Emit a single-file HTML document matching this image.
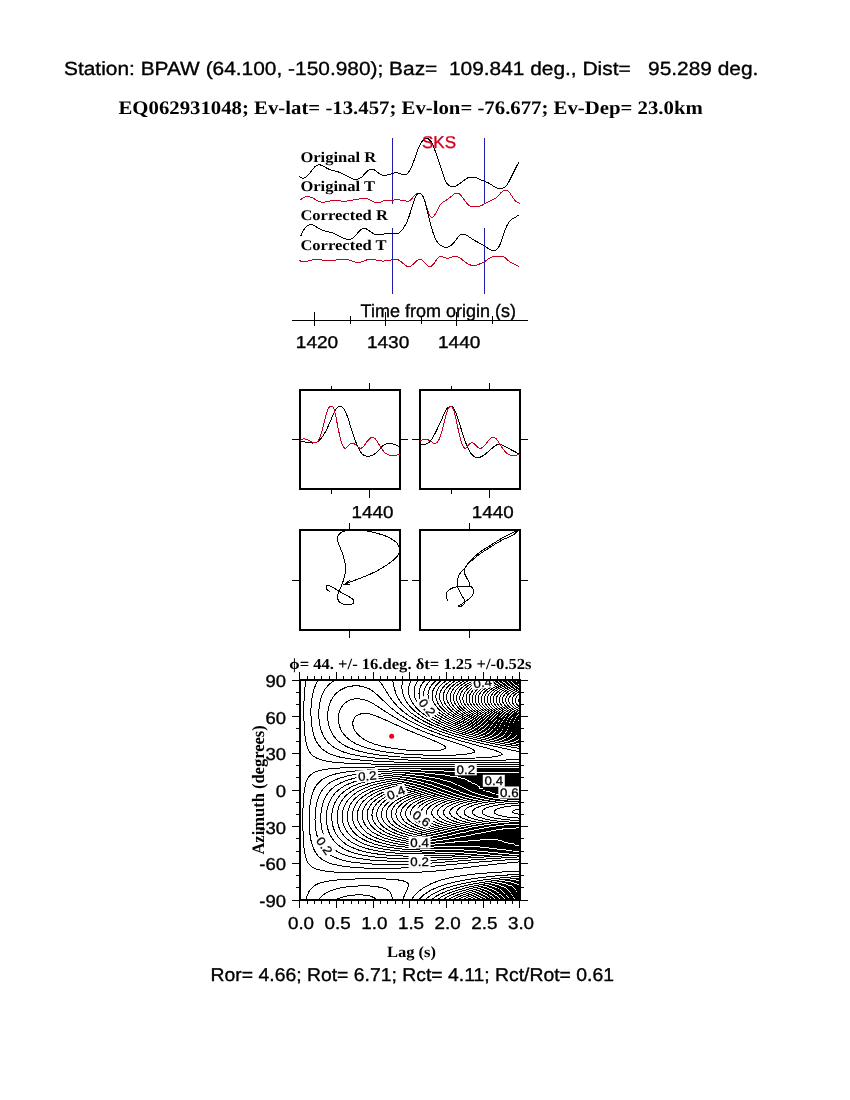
<!DOCTYPE html>
<html><head><meta charset="utf-8"><title>SKS splitting BPAW</title>
<style>html,body{margin:0;padding:0;background:#fff}svg{display:block}text{text-rendering:geometricPrecision;white-space:pre}</style>
</head><body>
<svg width="850" height="1100" viewBox="0 0 850 1100">
<rect width="850" height="1100" fill="#fff"/>
<text transform="translate(64 74.8) scale(1.094 1)" font-family='"Liberation Sans",sans-serif' font-size="19.1" xml:space="preserve" stroke="#000" stroke-width=".35">Station: BPAW (64.100, -150.980); Baz=  109.841 deg., Dist=   95.289 deg.</text>
<text transform="translate(118.5 114) scale(1.088 1)" font-family='"Liberation Serif",serif' font-size="19.1" font-weight="bold" xml:space="preserve">EQ062931048; Ev-lat= -13.457; Ev-lon= -76.677; Ev-Dep= 23.0km</text>
<g shape-rendering="crispEdges">
<path d="M392.5 138V204M392.5 228V293.5M484.5 138V204M484.5 228V293.5" stroke="#1c1ca8" stroke-width="1" fill="none"/>
</g>
<path d="M299.1 176.6L300.1 177.3L301.1 177.8L302.1 178.1L303.1 178.2L304.1 178L305.1 177.6L306.1 177L307.1 176.2L308.1 175.2L309.1 174L310.1 172.7L311.1 171.4L312.1 170L313.1 168.8L314.1 167.6L315.1 166.6L316.1 165.9L317.1 165.4L318.1 165L319.1 164.9L320.1 164.9L321.1 165.2L322.1 165.5L323.1 166L324.1 166.5L325.1 167.1L326.1 167.7L327.1 168.3L328.1 168.8L329.1 169.3L330.1 169.7L331.1 170L332.1 170.3L333.1 170.6L334.1 170.8L335.1 171.1L336.1 171.3L337.1 171.6L338.1 171.9L339.1 172.2L340.1 172.6L341.1 173L342.1 173.4L343.1 173.9L344.1 174.4L345.1 175L346.1 175.5L347.1 176.1L348.1 176.6L349.1 177.2L350.1 177.7L351.1 178.2L352.1 178.6L353.1 179L354.1 179.2L355.1 179.4L356.1 179.4L357.1 179.3L358.1 179L359.1 178.7L360.1 178.1L361.1 177.5L362.1 176.7L363.1 175.7L364.1 174.6L365.1 173.4L366.1 172.2L367.1 171.2L368.1 170.4L369.1 169.9L370.1 169.5L371.1 169.3L372.1 169.3L373.1 169.4L374.1 169.8L375.1 170.4L376.1 171.2L377.1 172L378.1 172.8L379.1 173.5L380.1 174.2L381.1 174.7L382.1 175L383.1 175.2L384.1 175.3L385.1 175.3L386.1 175.2L387.1 175L388.1 174.8L389.1 174.6L390.1 174.3L391.1 174L392.1 173.7L393.1 173.3L394.1 172.9L395.1 172.6L396.1 172.4L397.1 172.5L398.1 172.9L399.1 173.4L400.1 173.8L401.1 174.2L402.1 174.4L403.1 174.5L404.1 174.5L405.1 174.5L406.1 174.3L407.1 173.8L408.1 172.9L409.1 171.5L410.1 169.8L411.1 167.8L412.1 165.5L413.1 163L414.1 160.3L415.1 157.5L416.1 154.6L417.1 151.8L418.1 149.1L419.1 146.6L420.1 144.5L421.1 142.8L422.1 141.4L423.1 140.2L424.1 139.2L425.1 138.5L426.1 138.2L427.1 138.3L428.1 138.7L429.1 139.4L430.1 140.4L431.1 141.6L432.1 143.4L433.1 145.5L434.1 148L435.1 150.7L436.1 153.5L437.1 156.4L438.1 159.4L439.1 162.3L440.1 165.3L441.1 168.4L442.1 171.5L443.1 174.6L444.1 177.6L445.1 180.2L446.1 182.1L447.1 183.6L448.1 184.6L449.1 185.4L450.1 185.9L451.1 186.3L452.1 186.6L453.1 186.6L454.1 186.5L455.1 186.3L456.1 185.8L457.1 185.3L458.1 184.6L459.1 183.9L460.1 183.2L461.1 182.5L462.1 181.8L463.1 181L464.1 180.3L465.1 179.5L466.1 178.8L467.1 178.2L468.1 177.8L469.1 177.4L470.1 177.2L471.1 177.1L472.1 177L473.1 177.1L474.1 177.2L475.1 177.3L476.1 177.7L477.1 178.1L478.1 178.5L479.1 179L480.1 179.4L481.1 179.9L482.1 180.3L483.1 180.7L484.1 181L485.1 181.4L486.1 181.9L487.1 182.3L488.1 182.8L489.1 183.3L490.1 183.9L491.1 184.6L492.1 185.2L493.1 185.9L494.1 186.5L495.1 187.1L496.1 187.6L497.1 188L498.1 188.4L499.1 188.6L500.1 188.7L501.1 188.6L502.1 188.4L503.1 188.1L504.1 187.5L505.1 186.8L506.1 185.8L507.1 184.6L508.1 183.1L509.1 181.3L510.1 179.4L511.1 177.3L512.1 175.3L513.1 173.3L514.1 171.2L515.1 169.2L516.1 167.2L517.1 165.3L518.1 163.6L519.1 162.5" stroke="#000" stroke-width="1" fill="none" shape-rendering="crispEdges"/>
<path d="M300.7 200L301.7 199L302.7 198.1L303.7 197.5L304.7 197L305.7 196.7L306.7 196.6L307.7 196.6L308.7 196.7L309.7 196.9L310.7 197.2L311.7 197.6L312.7 198L313.7 198.6L314.7 199.1L315.7 199.7L316.7 200.2L317.7 200.8L318.7 201.2L319.7 201.7L320.7 202L321.7 202.2L322.7 202.2L323.7 202.2L324.7 202.1L325.7 201.9L326.7 201.7L327.7 201.5L328.7 201.3L329.7 201.1L330.7 200.9L331.7 200.8L332.7 200.7L333.7 200.7L334.7 200.7L335.7 200.7L336.7 200.7L337.7 200.8L338.7 200.9L339.7 200.9L340.7 201L341.7 201.1L342.7 201.1L343.7 201.1L344.7 201.1L345.7 201.1L346.7 201.1L347.7 200.9L348.7 200.8L349.7 200.7L350.7 200.5L351.7 200.3L352.7 200.1L353.7 199.9L354.7 199.7L355.7 199.5L356.7 199.4L357.7 199.2L358.7 199L359.7 198.9L360.7 198.7L361.7 198.4L362.7 198.3L363.7 198.2L364.7 198.2L365.7 198.4L366.7 198.7L367.7 199L368.7 199.5L369.7 200L370.7 200.4L371.7 200.9L372.7 201.4L373.7 201.8L374.7 202.2L375.7 202.6L376.7 202.8L377.7 202.9L378.7 202.7L379.7 202.4L380.7 202L381.7 201.6L382.7 201.2L383.7 200.9L384.7 200.6L385.7 200.5L386.7 200.4L387.7 200.4L388.7 200.4L389.7 200.4L390.7 200.4L391.7 200.3L392.7 200.2L393.7 200L394.7 199.8L395.7 199.7L396.7 199.6L397.7 199.6L398.7 199.8L399.7 199.9L400.7 200.1L401.7 200.3L402.7 200.4L403.7 200.6L404.7 200.8L405.7 201L406.7 201.2L407.7 201.3L408.7 201.1L409.7 200.6L410.7 199.9L411.7 198.9L412.7 197.6L413.7 196.4L414.7 195.3L415.7 194.4L416.7 193.7L417.7 193.3L418.7 193.1L419.7 193.2L420.7 193.6L421.7 194.4L422.7 195.8L423.7 197.9L424.7 200.6L425.7 203.7L426.7 206.9L427.7 210.1L428.7 213L429.7 215.3L430.7 216.7L431.7 217.3L432.7 217.1L433.7 216.4L434.7 215.1L435.7 213.4L436.7 211.4L437.7 209.3L438.7 207.3L439.7 205.5L440.7 204.1L441.7 203L442.7 202.3L443.7 201.7L444.7 201.2L445.7 200.6L446.7 199.9L447.7 199.2L448.7 198.4L449.7 197.6L450.7 196.8L451.7 196L452.7 195.2L453.7 194.4L454.7 193.8L455.7 193.3L456.7 193.1L457.7 193.1L458.7 193.5L459.7 194.3L460.7 195.3L461.7 196.5L462.7 197.8L463.7 199.2L464.7 200.6L465.7 201.9L466.7 203.2L467.7 204.2L468.7 205.1L469.7 205.8L470.7 206.2L471.7 206.6L472.7 206.7L473.7 206.8L474.7 206.8L475.7 206.8L476.7 206.7L477.7 206.6L478.7 206.4L479.7 206.2L480.7 205.9L481.7 205.4L482.7 204.9L483.7 204.4L484.7 203.8L485.7 203.2L486.7 202.7L487.7 202.1L488.7 201.6L489.7 201L490.7 200.5L491.7 200L492.7 199.5L493.7 199L494.7 198.5L495.7 198L496.7 197.3L497.7 196.4L498.7 195.3L499.7 194.1L500.7 192.9L501.7 192L502.7 191.2L503.7 190.7L504.7 190.4L505.7 190.2L506.7 190.2L507.7 190.7L508.7 191.5L509.7 192.8L510.7 194.3L511.7 195.8L512.7 197.4L513.7 198.9L514.7 200.1L515.7 201.1L516.7 201.8L517.7 202.5L518.7 202.9L519.7 203.4" stroke="#c8001e" stroke-width="1" fill="none" shape-rendering="crispEdges"/>
<path d="M300.7 236.2L301.7 233.8L302.7 231.8L303.7 230.1L304.7 228.6L305.7 227.4L306.7 226.5L307.7 225.7L308.7 225.2L309.7 224.8L310.7 224.6L311.7 224.6L312.7 224.8L313.7 225.2L314.7 225.8L315.7 226.4L316.7 227.1L317.7 227.8L318.7 228.4L319.7 229L320.7 229.5L321.7 229.9L322.7 230.3L323.7 230.6L324.7 230.9L325.7 231.2L326.7 231.4L327.7 231.7L328.7 231.9L329.7 232.1L330.7 232.4L331.7 232.7L332.7 233L333.7 233.4L334.7 233.8L335.7 234.3L336.7 234.8L337.7 235.3L338.7 235.9L339.7 236.4L340.7 236.9L341.7 237.4L342.7 237.9L343.7 238.3L344.7 238.6L345.7 238.9L346.7 239.1L347.7 239.2L348.7 239.2L349.7 239.2L350.7 239L351.7 238.7L352.7 238.2L353.7 237.5L354.7 236.6L355.7 235.5L356.7 234.3L357.7 233L358.7 231.8L359.7 230.7L360.7 229.8L361.7 229.1L362.7 228.7L363.7 228.4L364.7 228.5L365.7 228.7L366.7 229.1L367.7 229.7L368.7 230.4L369.7 231.2L370.7 231.9L371.7 232.6L372.7 233.2L373.7 233.8L374.7 234.2L375.7 234.6L376.7 234.8L377.7 234.9L378.7 235L379.7 234.9L380.7 234.8L381.7 234.6L382.7 234.4L383.7 234.1L384.7 233.9L385.7 233.7L386.7 233.5L387.7 233.3L388.7 233.2L389.7 233.1L390.7 233.1L391.7 233.2L392.7 233.3L393.7 233.5L394.7 233.6L395.7 233.8L396.7 233.8L397.7 233.6L398.7 233.2L399.7 232.5L400.7 231.6L401.7 230.5L402.7 229.2L403.7 227.7L404.7 226.1L405.7 224.4L406.7 222.4L407.7 220.2L408.7 217.5L409.7 214.5L410.7 211.3L411.7 208L412.7 204.7L413.7 201.6L414.7 198.8L415.7 196.4L416.7 194.7L417.7 193.7L418.7 193.3L419.7 193.4L420.7 193.7L421.7 194.5L422.7 195.9L423.7 198.1L424.7 201.2L425.7 204.7L426.7 208.6L427.7 212.6L428.7 216.7L429.7 220.7L430.7 224.6L431.7 228.2L432.7 231.6L433.7 234.6L434.7 237.2L435.7 239.4L436.7 241.1L437.7 242.5L438.7 243.6L439.7 244.6L440.7 245.4L441.7 246L442.7 246.6L443.7 247L444.7 247.2L445.7 247.4L446.7 247.4L447.7 247.2L448.7 246.9L449.7 246.4L450.7 245.8L451.7 245L452.7 244L453.7 242.9L454.7 241.6L455.7 240.2L456.7 238.8L457.7 237.5L458.7 236.3L459.7 235.4L460.7 234.7L461.7 234.3L462.7 234.1L463.7 234.1L464.7 234.4L465.7 234.8L466.7 235.4L467.7 236L468.7 236.7L469.7 237.3L470.7 238L471.7 238.6L472.7 239.3L473.7 239.9L474.7 240.5L475.7 241.1L476.7 241.6L477.7 242.2L478.7 242.7L479.7 243.2L480.7 243.7L481.7 244.3L482.7 244.8L483.7 245.4L484.7 246L485.7 246.7L486.7 247.4L487.7 248.1L488.7 248.8L489.7 249.4L490.7 249.9L491.7 250.3L492.7 250.6L493.7 250.6L494.7 250.5L495.7 250.2L496.7 249.5L497.7 248.6L498.7 247.2L499.7 245.3L500.7 242.9L501.7 240.1L502.7 237L503.7 234L504.7 231.1L505.7 228.5L506.7 226.2L507.7 224.2L508.7 222.5L509.7 221.2L510.7 220.2L511.7 219.3L512.7 218.7L513.7 218.1L514.7 217.6L515.7 217L516.7 216.4L517.7 215.7L518.7 214.8" stroke="#000" stroke-width="1" fill="none" shape-rendering="crispEdges"/>
<path d="M299.1 260.4L300.1 260.9L301.1 261.2L302.1 261.4L303.1 261.5L304.1 261.5L305.1 261.4L306.1 261.3L307.1 261.1L308.1 260.9L309.1 260.7L310.1 260.4L311.1 260.1L312.1 259.9L313.1 259.7L314.1 259.5L315.1 259.4L316.1 259.3L317.1 259.3L318.1 259.4L319.1 259.6L320.1 259.7L321.1 259.9L322.1 260.1L323.1 260.4L324.1 260.5L325.1 260.7L326.1 260.7L327.1 260.8L328.1 260.8L329.1 260.8L330.1 260.7L331.1 260.6L332.1 260.5L333.1 260.4L334.1 260.2L335.1 260.1L336.1 259.9L337.1 259.8L338.1 259.6L339.1 259.5L340.1 259.4L341.1 259.3L342.1 259.3L343.1 259.2L344.1 259.3L345.1 259.3L346.1 259.4L347.1 259.6L348.1 259.8L349.1 260L350.1 260.3L351.1 260.7L352.1 261.1L353.1 261.4L354.1 261.7L355.1 262L356.1 262.2L357.1 262.4L358.1 262.4L359.1 262.4L360.1 262.3L361.1 262.1L362.1 261.8L363.1 261.5L364.1 261.1L365.1 260.7L366.1 260.2L367.1 259.8L368.1 259.5L369.1 259.3L370.1 259.2L371.1 259.2L372.1 259.3L373.1 259.4L374.1 259.7L375.1 259.9L376.1 260.1L377.1 260.4L378.1 260.6L379.1 260.7L380.1 260.8L381.1 260.9L382.1 261L383.1 261L384.1 261L385.1 260.9L386.1 260.8L387.1 260.7L388.1 260.6L389.1 260.4L390.1 260.2L391.1 260L392.1 259.8L393.1 259.6L394.1 259.5L395.1 259.4L396.1 259.4L397.1 259.5L398.1 259.8L399.1 260.3L400.1 261L401.1 261.7L402.1 262.6L403.1 263.5L404.1 264.3L405.1 265.2L406.1 265.8L407.1 266.4L408.1 266.7L409.1 266.7L410.1 266.4L411.1 265.9L412.1 265.2L413.1 264.3L414.1 263.3L415.1 262.3L416.1 261.3L417.1 260.5L418.1 259.8L419.1 259.4L420.1 259.3L421.1 259.6L422.1 260.2L423.1 261L424.1 262L425.1 263L426.1 264.2L427.1 265.2L428.1 266.1L429.1 266.6L430.1 266.7L431.1 266.3L432.1 265.6L433.1 264.5L434.1 263.3L435.1 261.9L436.1 260.5L437.1 259.1L438.1 257.9L439.1 257L440.1 256.6L441.1 256.4L442.1 256.6L443.1 257L444.1 257.4L445.1 257.8L446.1 258.1L447.1 258.2L448.1 258.1L449.1 258L450.1 257.7L451.1 257.4L452.1 257L453.1 256.7L454.1 256.5L455.1 256.5L456.1 256.5L457.1 256.7L458.1 257L459.1 257.5L460.1 258.1L461.1 258.8L462.1 259.6L463.1 260.4L464.1 261.2L465.1 262L466.1 262.7L467.1 263.4L468.1 264L469.1 264.5L470.1 264.9L471.1 265.2L472.1 265.4L473.1 265.4L474.1 265.4L475.1 265.3L476.1 265.1L477.1 264.9L478.1 264.6L479.1 264.2L480.1 263.8L481.1 263.4L482.1 262.9L483.1 262.4L484.1 261.8L485.1 261.2L486.1 260.5L487.1 259.8L488.1 259.1L489.1 258.4L490.1 257.8L491.1 257.4L492.1 257L493.1 256.8L494.1 256.6L495.1 256.5L496.1 256.4L497.1 256.3L498.1 256.2L499.1 256.1L500.1 256L501.1 256L502.1 256.2L503.1 256.5L504.1 257L505.1 257.7L506.1 258.5L507.1 259.5L508.1 260.4L509.1 261.2L510.1 262L511.1 262.6L512.1 263.2L513.1 263.7L514.1 264.2L515.1 264.6L516.1 265.1L517.1 265.5L518.1 266L519.1 266.5" stroke="#c8001e" stroke-width="1" fill="none" shape-rendering="crispEdges"/>
<text transform="translate(300.4 161.5) scale(1.118 1)" font-family='"Liberation Serif",serif' font-size="14.8" font-weight="bold" xml:space="preserve">Original R</text>
<text transform="translate(300.4 191.1) scale(1.118 1)" font-family='"Liberation Serif",serif' font-size="14.8" font-weight="bold" xml:space="preserve">Original T</text>
<text transform="translate(300.4 219.7) scale(1.118 1)" font-family='"Liberation Serif",serif' font-size="14.8" font-weight="bold" xml:space="preserve">Corrected R</text>
<text transform="translate(300.4 249.7) scale(1.118 1)" font-family='"Liberation Serif",serif' font-size="14.8" font-weight="bold" xml:space="preserve">Corrected T</text>
<text transform="translate(422 147.9)" font-family='"Liberation Sans",sans-serif' font-size="17" fill="#d6001c" xml:space="preserve" stroke="#d6001c" stroke-width=".35">SKS</text>
<text transform="translate(360.6 317.1) scale(0.995 1)" font-family='"Liberation Sans",sans-serif' font-size="18.1" xml:space="preserve" stroke="#000" stroke-width=".35">Time from origin (s)</text>
<g shape-rendering="crispEdges" stroke="#000" stroke-width="1" fill="none">
<path d="M292 320.5H528"/>
<path d="M314.5 312V326M350.5 316V324M385.5 312V326M421.5 316V324M456.5 312V326M492.5 316V324"/>
</g>
<text transform="translate(317 347.7) scale(1.115 1)" font-family='"Liberation Sans",sans-serif' font-size="17.1" text-anchor="middle" xml:space="preserve" stroke="#000" stroke-width=".35">1420</text>
<text transform="translate(388.1 347.7) scale(1.115 1)" font-family='"Liberation Sans",sans-serif' font-size="17.1" text-anchor="middle" xml:space="preserve" stroke="#000" stroke-width=".35">1430</text>
<text transform="translate(459.2 347.7) scale(1.115 1)" font-family='"Liberation Sans",sans-serif' font-size="17.1" text-anchor="middle" xml:space="preserve" stroke="#000" stroke-width=".35">1440</text>
<rect x="300" y="390" width="100" height="99" fill="none" stroke="#000" stroke-width="2" shape-rendering="crispEdges"/>
<rect x="420" y="390" width="100" height="99" fill="none" stroke="#000" stroke-width="2" shape-rendering="crispEdges"/>
<rect x="300" y="530" width="100" height="99.5" fill="none" stroke="#000" stroke-width="2" shape-rendering="crispEdges"/>
<rect x="420" y="530" width="100" height="99.5" fill="none" stroke="#000" stroke-width="2" shape-rendering="crispEdges"/>
<path d="M331.5 386V390M369.5 382.5V390M331.5 489V493.5M369.5 489V497.5M292 439.5H300M400 439.5H407.5M349.5 522.5V530M349.5 629.5V637.5M292 580.5H300M400 580.5H407.5M451.5 386V390M489.5 382.5V390M451.5 489V493.5M489.5 489V497.5M412 439.5H420M520 439.5H527.5M469.5 522.5V530M469.5 629.5V637.5M412 580.5H420M520 580.5H527.5" stroke="#000" stroke-width="1" fill="none" shape-rendering="crispEdges"/>
<text transform="translate(372.5 518.3) scale(1.09 1)" font-family='"Liberation Sans",sans-serif' font-size="17.3" text-anchor="middle" xml:space="preserve" stroke="#000" stroke-width=".35">1440</text>
<text transform="translate(492.8 518.3) scale(1.09 1)" font-family='"Liberation Sans",sans-serif' font-size="17.3" text-anchor="middle" xml:space="preserve" stroke="#000" stroke-width=".35">1440</text>
<path d="M300.2 441.7L301.2 441.6L302.2 441.6L303.2 441.7L304.2 441.8L305.2 442L306.2 442.2L307.2 442.4L308.2 442.5L309.2 442.7L310.2 442.8L311.2 442.9L312.2 443L313.2 443L314.2 442.8L315.2 442.6L316.2 442.3L317.2 441.8L318.2 441.2L319.2 440.5L320.2 439.5L321.2 438.4L322.2 437L323.2 435.6L324.2 433.9L325.2 432.2L326.2 430.3L327.2 428.3L328.2 426.2L329.2 423.9L330.2 421.6L331.2 419.3L332.2 416.8L333.2 414.5L334.2 412.2L335.2 410.3L336.2 408.7L337.2 407.5L338.2 406.7L339.2 406.4L340.2 406.3L341.2 406.5L342.2 407.1L343.2 408.1L344.2 409.4L345.2 411.2L346.2 413.5L347.2 416L348.2 418.9L349.2 422L350.2 425.2L351.2 428.5L352.2 431.8L353.2 434.8L354.2 437.7L355.2 440.4L356.2 443L357.2 445.4L358.2 447.6L359.2 449.6L360.2 451.3L361.2 452.8L362.2 454L363.2 454.8L364.2 455.4L365.2 455.8L366.2 456L367.2 456.1L368.2 456.1L369.2 456.1L370.2 455.9L371.2 455.7L372.2 455.3L373.2 454.8L374.2 454.2L375.2 453.5L376.2 452.7L377.2 451.8L378.2 450.7L379.2 449.7L380.2 448.6L381.2 447.4L382.2 446.4L383.2 445.5L384.2 444.7L385.2 444.2L386.2 443.8L387.2 443.5L388.2 443.4L389.2 443.4L390.2 443.5L391.2 443.6L392.2 443.8L393.2 444L394.2 444.4L395.2 444.7L396.2 445.2L397.2 445.7L398.2 446.2L399.2 446.8L400.2 447.4" stroke="#000" stroke-width="1" fill="none" shape-rendering="crispEdges"/>
<path d="M300.2 440.6L301.2 439.8L302.2 439.3L303.2 439L304.2 438.9L305.2 439L306.2 439.2L307.2 439.6L308.2 440L309.2 440.5L310.2 441L311.2 441.6L312.2 442.1L313.2 442.6L314.2 442.8L315.2 442.9L316.2 442.6L317.2 441.8L318.2 440.6L319.2 438.9L320.2 436.5L321.2 433.6L322.2 430.1L323.2 426.3L324.2 422.3L325.2 418.3L326.2 414.6L327.2 411.3L328.2 408.8L329.2 407.1L330.2 406.3L331.2 406L332.2 406.3L333.2 407.5L334.2 409.8L335.2 413.5L336.2 418.2L337.2 423.5L338.2 428.7L339.2 433.5L340.2 437.8L341.2 441.5L342.2 444.5L343.2 446.6L344.2 447.9L345.2 448.3L346.2 447.8L347.2 446.9L348.2 445.7L349.2 444.7L350.2 444L351.2 443.5L352.2 443.4L353.2 443.5L354.2 443.9L355.2 444.6L356.2 445.4L357.2 446.3L358.2 447.1L359.2 447.9L360.2 448.3L361.2 448.2L362.2 447.7L363.2 446.7L364.2 445.5L365.2 444.1L366.2 442.7L367.2 441.4L368.2 440.1L369.2 439.1L370.2 438.2L371.2 437.7L372.2 437.4L373.2 437.5L374.2 437.9L375.2 438.8L376.2 440L377.2 441.4L378.2 443L379.2 444.7L380.2 446.4L381.2 448L382.2 449.5L383.2 450.9L384.2 452L385.2 453L386.2 453.7L387.2 454.3L388.2 454.7L389.2 455L390.2 455.2L391.2 455.4L392.2 455.5L393.2 455.5L394.2 455.4L395.2 455.3L396.2 455.2L397.2 455L398.2 454.8L399.2 454.6L400.2 454.4" stroke="#c8001e" stroke-width="1" fill="none" shape-rendering="crispEdges"/>
<path d="M420.1 444.2L421.1 444.2L422.1 444.3L423.1 444.3L424.1 444.3L425.1 444.1L426.1 443.9L427.1 443.6L428.1 443L429.1 442.3L430.1 441.4L431.1 440.1L432.1 438.7L433.1 437L434.1 435.2L435.1 433.2L436.1 431.2L437.1 429.2L438.1 427.1L439.1 425L440.1 422.9L441.1 420.7L442.1 418.5L443.1 416.2L444.1 414L445.1 411.9L446.1 410L447.1 408.5L448.1 407.4L449.1 406.7L450.1 406.3L451.1 406.4L452.1 406.8L453.1 407.7L454.1 409.1L455.1 411L456.1 413.3L457.1 416.1L458.1 419.1L459.1 422.2L460.1 425.4L461.1 428.7L462.1 431.9L463.1 435.1L464.1 438.1L465.1 441L466.1 443.7L467.1 446.2L468.1 448.5L469.1 450.5L470.1 452.2L471.1 453.6L472.1 454.8L473.1 455.8L474.1 456.5L475.1 457L476.1 457.4L477.1 457.6L478.1 457.6L479.1 457.5L480.1 457.2L481.1 456.8L482.1 456.3L483.1 455.7L484.1 455L485.1 454.2L486.1 453.4L487.1 452.6L488.1 451.7L489.1 450.8L490.1 449.9L491.1 449L492.1 448.2L493.1 447.3L494.1 446.5L495.1 445.8L496.1 445.2L497.1 444.7L498.1 444.3L499.1 444.2L500.1 444.3L501.1 444.5L502.1 444.9L503.1 445.4L504.1 445.9L505.1 446.5L506.1 447.1L507.1 447.7L508.1 448.2L509.1 448.7L510.1 449.2L511.1 449.8L512.1 450.3L513.1 450.8L514.1 451.3L515.1 451.8L516.1 452.4L517.1 452.9L518.1 453.5L519.1 454.1L520.1 454.8" stroke="#000" stroke-width="1" fill="none" shape-rendering="crispEdges"/>
<path d="M420.1 440.9L421.1 440.3L422.1 439.9L423.1 439.6L424.1 439.4L425.1 439.3L426.1 439.3L427.1 439.5L428.1 439.8L429.1 440.3L430.1 440.9L431.1 441.6L432.1 442.3L433.1 442.9L434.1 443.3L435.1 443.4L436.1 443.1L437.1 442.4L438.1 441.1L439.1 439.3L440.1 436.8L441.1 433.8L442.1 430.3L443.1 426.5L444.1 422.5L445.1 418.5L446.1 414.7L447.1 411.5L448.1 409L449.1 407.3L450.1 406.4L451.1 406.2L452.1 406.9L453.1 408.6L454.1 411.4L455.1 415.2L456.1 419.5L457.1 424.2L458.1 428.9L459.1 433.4L460.1 437.6L461.1 441.2L462.1 444.2L463.1 446.5L464.1 447.8L465.1 448.3L466.1 447.8L467.1 446.7L468.1 445.4L469.1 444.2L470.1 443.4L471.1 442.9L472.1 442.8L473.1 443.1L474.1 443.8L475.1 444.7L476.1 445.7L477.1 446.7L478.1 447.4L479.1 448L480.1 448.3L481.1 448.2L482.1 447.8L483.1 447.1L484.1 446.1L485.1 444.9L486.1 443.7L487.1 442.4L488.1 441.1L489.1 439.9L490.1 438.8L491.1 438L492.1 437.5L493.1 437.2L494.1 437.3L495.1 437.9L496.1 438.8L497.1 440L498.1 441.4L499.1 443L500.1 444.5L501.1 446.1L502.1 447.6L503.1 449.1L504.1 450.4L505.1 451.5L506.1 452.5L507.1 453.4L508.1 454.1L509.1 454.6L510.1 455L511.1 455.3L512.1 455.5L513.1 455.5L514.1 455.5L515.1 455.4L516.1 455.3L517.1 455L518.1 454.8L519.1 454.5L520.1 454.2" stroke="#c8001e" stroke-width="1" fill="none" shape-rendering="crispEdges"/>
<g stroke="#000" stroke-width="1" fill="none" shape-rendering="crispEdges">
<path d="M344.4 584.3L345.5 583.8L346.6 583.4L347.7 583L348.9 582.5L350 582.1L351.1 581.7L352.2 581.2L353.3 580.8L354.5 580.4L355.6 580L356.7 579.6L357.8 579.1L358.9 578.7L360.1 578.3L361.2 577.9L362.3 577.4L363.4 577L364.5 576.6L365.6 576.1L366.8 575.6L367.9 575.2L369 574.7L370.1 574.2L371.1 573.7L372.2 573.2L373.3 572.7L374.4 572.2L375.5 571.6L376.5 571.1L377.6 570.5L378.6 570L379.7 569.4L380.7 568.8L381.8 568.2L382.8 567.6L383.8 566.9L384.8 566.3L385.8 565.6L386.8 565L387.8 564.3L388.8 563.6L389.8 562.9L390.7 562.2L391.7 561.5L392.6 560.7L393.5 559.9L394.4 559.1L395.3 558.3L396.2 557.4L397 556.6L397.8 555.6L398.4 554.6L398.9 553.5L399.3 552.4L399.5 551.2L399.5 550L399.4 548.8L399.1 547.5L398.8 546.4L398.3 545.3L397.7 544.2L397 543.2L396.2 542.4L395.3 541.6L394.4 540.8L393.4 540.1L392.3 539.5L391.3 538.9L390.2 538.3L389.2 537.7L388.1 537.2L387 536.7L385.9 536.2L384.8 535.7L383.7 535.3L382.6 534.9L381.4 534.6L380.3 534.2L379.1 533.9L378 533.5L376.8 533.2L375.7 532.9L374.5 532.6L373.3 532.3L372.2 532L371 531.7L369.8 531.5L368.7 531.3L367.5 531.1L366.3 530.9L365.1 530.8L363.9 530.7L362.7 530.6L361.5 530.5L360.3 530.4L359.1 530.4L357.9 530.3L356.7 530.3L355.5 530.2L354.3 530.2L353.1 530.2L351.9 530.2L350.7 530.2L349.5 530.3L348.3 530.4L347.1 530.5L346 530.7L344.8 531L343.6 531.4L342.5 531.8L341.4 532.4L340.4 533L339.5 533.8L338.7 534.8L338.1 535.8L337.7 536.9L337.5 538.1L337.5 539.4L337.6 540.6L337.9 541.7L338.2 542.9L338.6 544L339.1 545.1L339.6 546.2L340 547.3L340.5 548.4L340.9 549.6L341.4 550.7L341.8 551.8L342.2 552.9L342.6 554L343 555.2L343.4 556.3L343.7 557.5L344 558.6L344.3 559.8L344.6 561L344.8 562.1L345.1 563.3L345.2 564.5L345.4 565.7L345.4 566.9L345.5 568.1L345.5 569.3L345.4 570.5L345.3 571.7L345.2 572.9L345 574.1L344.8 575.2L344.5 576.4L344.2 577.6L343.9 578.7L343.6 579.9L343.2 581L342.8 582.2L342.4 583.3L342 584.4L341.6 585.5L341.1 586.6L340.6 587.7L340.1 588.8L339.6 589.9L339.1 591L338.6 592.1L338.2 593.2L337.8 594.4L337.5 595.5L337.4 596.7L337.5 597.9L337.8 599.1L338.3 600.2L338.9 601.3L339.8 602.1L340.7 602.9L341.8 603.4L342.9 603.9L344.1 604.2L345.3 604.4L346.4 604.5L347.6 604.6L348.8 604.6L350 604.5L351.3 604.3L352.6 603.8L353.5 603.1L353.9 602.1L353.7 600.8L353.1 599.7L352.3 598.8L351.3 598.1L350.2 597.5L349.2 596.9L348.2 596.3L347.1 595.7L346.1 595.1L345.1 594.5L344 593.9L343 593.3L341.9 592.8L340.9 592.2L339.8 591.6L338.8 591L337.7 590.4L336.7 589.7L335.7 589.1L334.7 588.5L333.7 587.9L332.7 587.4L331.6 586.9L330.5 586.4L329.3 585.8L328 585.3L326.9 585.3L326.2 586L326.1 587.4L326.4 588.6L327.1 589.6L328 590.4L329 591L330.1 591.5"/>
<path d="M349.6 580.6L344.4 584.3L350.4 584.4"/>
<path d="M448.2 601.2L447.6 600.2L447 599.1L446.6 598L446.4 596.8L446.3 595.6L446.3 594.4L446.6 593.2L447.1 592.1L447.8 591.1L448.6 590.2L449.6 589.5L450.6 588.9L451.7 588.3L452.8 587.9L453.9 587.5L455.1 587.2L456.2 586.9L457.4 586.7L458.6 586.5L459.8 586.4L461 586.3L462.2 586.3L463.4 586.2L464.6 586.1L465.7 586L466.9 586L468.1 586L469.3 586.2L470.5 586.5L471.6 587.1L472.5 587.9L473.1 588.9L473.5 590L473.6 591.3L473.5 592.5L473.2 593.6L472.7 594.7L472.1 595.8L471.3 596.7L470.5 597.6L469.6 598.4L468.7 599.1L467.7 599.8L466.7 600.5L465.7 601.2L464.8 601.9L463.8 602.6L462.8 603.3L461.8 604L460.9 604.6L459.9 605.3L458.8 605.9L457.8 606.5M457.8 606.5L458.9 606.5L460.2 606.4L461.4 606.1L462.5 605.5L463.4 604.8L464.1 603.8L464.6 602.7L464.7 601.5L464.5 600.3L464 599.2L463.4 598.1L462.8 597.1L462.1 596.1L461.6 595L461 594L460.5 592.9L459.9 591.9L459.4 590.8L458.8 589.7L458.4 588.6L457.9 587.5L457.6 586.4L457.3 585.2L457.2 584L457.2 582.8L457.3 581.6L457.5 580.4L457.7 579.3L458 578.1L458.4 576.9L458.8 575.8L459.3 574.7L459.9 573.7L460.6 572.7L461.4 571.8L462.2 571L463.1 570.1L463.9 569.2L464.6 568.3L465.3 567.3L466 566.3L466.7 565.4L467.4 564.4L468.1 563.4L468.9 562.5L469.6 561.6L470.4 560.7L471.2 559.8L472.1 558.9L472.9 558.1L473.8 557.3L474.6 556.5L475.5 555.7L476.5 554.9L477.4 554.1L478.3 553.4L479.3 552.7L480.2 552L481.2 551.3L482.2 550.6L483.2 549.9L484.2 549.3L485.2 548.6L486.2 548L487.2 547.4L488.3 546.7L489.3 546.1L490.3 545.5L491.3 544.8L492.3 544.2L493.3 543.6L494.3 542.9L495.3 542.3L496.3 541.6L497.4 541L498.4 540.4L499.4 539.7L500.4 539.1L501.4 538.5L502.5 537.9L503.5 537.3L504.5 536.7L505.6 536.1L506.6 535.6L507.7 535L508.7 534.5L509.8 534L510.9 533.4L512 533L513.1 532.5L514.2 532L515.3 531.6L516.5 531.2L517.6 530.8M517.6 530.8L516.9 531.8L516.1 532.6L515.2 533.4L514.3 534.1L513.3 534.8L512.3 535.4L511.3 536L510.2 536.5L509.1 537L508 537.5L506.8 538L505.7 538.5L504.6 538.9L503.5 539.4L502.4 540L501.3 540.5L500.3 541.1L499.2 541.7L498.2 542.3L497.2 542.9L496.2 543.5L495.2 544.1L494.2 544.8L493.2 545.4L492.2 546L491.2 546.7L490.1 547.3L489.1 547.9L488.1 548.6L487.1 549.2L486.1 549.8L485.1 550.5L484.1 551.1L483.1 551.8L482.1 552.5L481.2 553.1L480.2 553.8L479.2 554.5L478.3 555.3L477.3 556L476.4 556.7L475.5 557.5L474.6 558.2L473.6 559L472.7 559.7L471.8 560.5L470.8 561.3L469.9 562L469.1 562.9L468.3 563.7L467.5 564.6L466.8 565.5L466.1 566.5L465.4 567.5L464.8 568.6L464.3 569.7L464.1 570.8L464.1 571.9L464.5 573.1L464.9 574.2L465.5 575.4L466 576.5L466.5 577.5L467 578.6L467.6 579.6L468.2 580.7L468.8 581.8L469.5 582.9L469.9 584.1L470 585.2L469.4 586.2"/>
</g>
<g id="ct" fill="none" stroke="#000" stroke-width="1" shape-rendering="crispEdges">
<path d="M424.7 750.9l-7.4-.2-11-.7-13.1-1.6-6.8-1.2-5.7-1.3-7.4-2.2-3.6-1.5-4.8-2.3-3.7-2.5-2.9-2.4-3-3.7-1.3-2.4-1.1-3.7-.1-2.4 .2-1.2 .8-2.5 1.2-2 2-1.7 1.7-.9 3.6-1 3.7 0 3.7 .5 3.6 1 7.4 2.8 27.1 12.3 29.9 12.2 5.1 2.5 1.8 1.2 1.1 1.2-.2 1.2-2.6 1.3-3.6 .5-7.3 .6-7.3 .1M413.7 754.7l-11-.8-11-1.1-11-1.6-7.4-1.5-7.3-1.9-5.1-1.8-5.5-2.4-4.2-2.5-4.6-3.7-3.3-3.6-1.6-2.5-1.2-2.4-1.3-3.7-.5-2.4-.3-2.5-.1-2.4 .3-2.5 .4-2.4 .8-2.4 .5-1.4 1.4-2.3 2.3-2.9 2.5-2 1.2-.8 3.6-1.6 3.7-.8 3.7 0 3.6 .5 3.7 1 3.7 1.6 3.6 1.9 3.7 2.2 12.5 8.2 8.1 4.9 6.7 3.7 7.4 3.6 8.2 3.7 9.2 3.7 13.9 5 21.6 7.2 6.2 2.4 2.3 1.3 1.4 1.2-.2 1.2-2.7 1.2-8.2 1.3-9.4 .5-14.7 .3-11-.2-14.6-.5M432 758.3l-14.7-.4-17-.9-14.4-1.2-10-1.2-9.9-1.8-8-1.9-7.3-2.5-3-1.3-4.4-2.3-3-2.1-2-1.6-2.4-2.4-2-2.5-1.6-2.4-1.3-2.5-1.5-3.6-.7-2.5-.7-3.6-.4-3.7 0-3.7 .3-3.6 .7-3.7 .7-2.5 1.5-3.6 1.3-2.5 1.7-2.4 2.2-2.5 2.9-2.4 1.3-.9 3.7-1.9 3.7-1.3 3.7-.8 3.6-.3 3.7 .1 3.6 .5 3.7 1.1 3.7 1.6 3.6 2.4 3.7 3.1 12.9 12.3 7.6 6.1 3.4 2.4 5.8 3.7 4.2 2.5 7.2 3.6 11 4.9 13.9 5.2 18.3 5.7 31.5 8.7 6.9 2.4 2.1 1.2 .3 1.3-2.5 1.2-7.5 1.2-5.1 .4-11 .6-11 .3-14.7 .2-18.3-.2M335.3 900l5-2.2 5-1.5 6-1.1 7.4-.4 3.6 .1 3.7 .4 3.7 .7 3.6 1.3 2.7 1.5 1.8 1.2M520 759.2l-11 .7-14.7 .6-29.3 .4-36.3-.2-29.7-1-22-1.5-14.7-1.8-11-2.1-7.3-2.1-3.7-1.4-4.7-2.4-3.7-2.4-4-3.7-2.8-3.6-2.6-4.9-1.8-4.9-1.1-4.9-.7-6.1-.1-6.1 .5-6.1 1.2-6.1 1.7-4.9 2.5-4.9 1-1.5 1.8-2.2 1.8-1.9 2.2-1.8 3.8-2.4M377.8 680l2.9 2.8 1.5 2.1 2.1 3.2 4.8 7.8 3.5 4.9 5.4 6.1 5.5 4.9 4.8 3.6 7.8 4.9 6.8 3.7 8 3.7 9.2 3.6 10.2 3.6 11 3.3 11 2.9 11 2.7 36.7 8.1M318.4 900l3.2-3.7 3.1-2.4 4.4-2.5 3.9-1.5 7.3-1.9 7.4-1.2 7.3-.7 7.3-.2 7.4 .1 7.3 .7 5.4 1.1 3.4 1.2 2.2 1.3 1.3 1.1 1 1.3 1.4 2.7 1 4.6M520 762.5l-36.7 .4-36.6 0-36.7-.4-25.7-.8-18.3-1.1-14.7-1.5-5.7-.9-5.3-1-5.1-1.4-3.5-1.2-2.9-1.3-4.2-2.4-3-2.5-3.3-3.6-2.2-3.7-1.4-3.3-1.3-4-1.1-4.9-.9-6.1-.4-7.4 0-7.3 .6-7.3 .9-6.1 1.6-6.1 2.1-4.9 2.2-3.7M392.7 680l1.3 7.3 1.9 6.1 2.3 4.9 3.3 4.9 4.3 4.9 5.5 4.9 7 4.9 6.3 3.7 4.8 2.4 5.3 2.4 8.3 3.4 11 3.8 11 3.3 14.7 3.7 11 2.5 11 2.2 18.3 3.3M306.1 900l.9-3.7 .9-2.4 1.2-2.5 1.9-2.7 2.2-2.1 1.8-1.3 2.3-1.2 3.2-1.2 4.6-1.2 4.2-.8 11-1.2 14.7-.7 14.7-.3 14.6 .2 11 .7 6.4 .8 4.6 1.6 1.3 .9 .7 1.2 .2 1.2-.2 1.3-.9 2.4-3.3 7.3-1.2 3.7M520 764.7l-99 0-33-.3-25.7-.6-17-.7-12.3-1-8.6-1.4-6.1-1.8-3.6-1.9-1.7-1.2-2-2-1.3-1.7-1.3-2.4-1.4-3.7-1-3.7-.6-3.6-.8-6.1-.5-7.4-.2-8.5-.1-9.8 .3-8.6 .5-7.3 .7-6.1 .8-4.9M402.9 680l-.7 3.7-.3 2.4 .1 2.5 .2 2.4 1.3 4.9 1 2.4 1.4 2.5 1.5 2.4 1.9 2.5 2.2 2.4 3.9 3.7 6.6 4.9 6.1 3.6 7.1 3.7 8.5 3.7 10 3.6 11.3 3.5 11 3 14.7 3.3 14.6 2.9 14.7 2.4M520 871.1l-25.7 1.3-18.3 1.5-11 1.3-7.3 1.1-11 2.2-7.4 2.1-3.6 1.3-5.3 2.2-5.7 3-4.6 3.1-4.2 3.7-3.1 3.7-1.6 2.4M520 766.5l-95.3 0-58.7 .6-18.3 .5-11 .6-10.4 1-6.5 1.2-5.1 1.8-1.4 .7-2.3 1.6-2 2.1-.9 1.2-1.3 2.4-.9 2.5-1.4 6.1-.9 8.5-.6 11-.2 12.3 .3 14.6 .7 11 1 7.4 .9 3.6 .8 2.5 .8 1.8 1.1 1.8 2.1 2.5 1.6 1.2 2.6 1.5 2.5 .9 4.8 1.2 7.3 1.1 7.4 .5 18.3 .7 33 0 29.3-.6 14.7-.9 11-1 37.7-4.6 23.1-2.5 16.2-1.5M411.2 680l-1.1 2.4-.9 2.5-.5 2.4-.2 2.5 .1 2.4 .4 2.5 .7 2.4 1.6 3.7 1.4 2.4 1.8 2.5 2.2 2.4 2.5 2.5 2.8 2.4 3.3 2.4 5.8 3.7 6.9 3.7 8.7 3.8 9.5 3.5 11.8 3.7 11.7 3.1 11 2.4 14.6 2.9 14.7 2.4M520 874.1l-22 1.6-18.3 2-14.7 2.3-7.3 1.4-7.4 1.7-7.3 2.2-3.7 1.3-3.6 1.4-4.7 2.2-4.2 2.5-3.4 2.4-2.7 2.5-2.2 2.4M520 768l-73.3 0-29.4 .3-25.6 .6-18.4 .7-14.6 1-11 1.2-7 1.1-4 .8-3.7 1-3.7 1.2-3.6 1.6-2.6 1.5-1.8 1.2-2.7 2.5-2.9 3.6-1.4 2.5-1.6 3.6-1.1 3.7-.8 3.7-1.3 8.5-.3 4.9-.1 6.1 .1 6.1 .3 4.9 .6 4.9 .8 4.9 .9 3.7 1.2 3.6 1.7 3.6 1.5 2.6 2.1 2.6 2.5 2.2 1.7 1.3 3.2 1.8 3.6 1.5 3.7 1.2 7.3 1.6 11 1.4 14.7 .9 18.3 .3 22-.5 11-.5 14.7-1.1 45.6-4.2 42.4-3.2M418.5 680l-1.7 2.4-1.3 2.5-.8 2.4-.5 2.5-.2 2.4 .2 2.5 .6 2.4 .8 2.5 1.3 2.4 1.5 2.4 1.9 2.5 2.3 2.4 4.2 3.7 3.3 2.4 3.8 2.5 6.6 3.7 8.1 3.6 9.6 3.7 10.5 3.3 11 3 11 2.5 14.6 2.9 14.7 2.4M520 876.3l-18.3 1.5-18.4 2.1-14.6 2.5-11 2.3-11 3.2-3.7 1.3-5.2 2.2-6.7 3.7-3.4 2.5-2.6 2.4M520 769.5l-33-.2-33 .1-29.3 .5-22 .6-18.4 .9-14.6 1.2-12.5 1.5-9.5 1.8-7.4 2-3.6 1.4-4.5 2.1-2.9 1.8-2.4 1.9-2.5 2.5-2 2.4-1.6 2.4-1.3 2.5-1.4 3.7-1.1 3.6-.8 3.7-.7 4.9-.5 8.5 .2 4.9 .5 4.9 .9 4.9 1 3.7 1.3 3.6 1.8 3.7 1.5 2.4 2 2.5 2.5 2.4 2.6 2.1 2.7 1.6 2.5 1.2 3 1.2 3.6 1.3 4.8 1.2 5.4 1.1 11 1.3 11 .8 14.7 .4 18.3-.2 11-.4 14.7-.9 43.5-3.3 44.5-2.9M425.1 680l-3 3.7-1.4 2.4-1 2.5-.5 2.4-.2 2.4 .3 2.5 .5 2.4 1 2.5 1.3 2.4 1.7 2.5 2 2.4 2.5 2.5 2.9 2.4 5.2 3.7 6.4 3.6 7.8 3.7 9.3 3.7 11.4 3.6 12 3.2 11 2.5 11 2.2 14.7 2.4M520 878.1l-18.3 1.6-14.7 1.9-14.7 2.5-10.9 2.5-11.1 3.2-7.2 2.9-3.8 1.8-3.2 1.8-5 3.7M520 770.8l-33-.2-29.3 .2-25.7 .4-22 .8-18.3 1-14.7 1.4-11 1.4-10.2 2-8.6 2.4-3.3 1.2-3.6 1.7-5.4 3.2-3 2.5-2.4 2.4-1.9 2.5-1.6 2.4-1.3 2.5-1.4 3.6-1.1 3.7-.7 3.7-.5 3.6-.2 4.9 .2 4.9 .4 3.7 .7 3.6 1.1 3.7 1.4 3.7 1.2 2.4 2.5 3.7 2.1 2.4 2.6 2.4 1.7 1.3 4 2.4 2.5 1.3 6.6 2.4 4.5 1.2 5.9 1.2 11.5 1.6 11 .8 14.6 .5 14.7-.1 25.7-1.1 45.1-2.9 39.2-2.2M431.1 680l-3.6 3.7-1.6 2.4-1.2 2.5-.9 3.6-.1 2.5 .2 2.4 .7 2.5 1.1 2.4 1.4 2.4 1.8 2.5 2.3 2.4 2.7 2.5 4.9 3.6 6.1 3.7 7.5 3.7 9.1 3.6 10.8 3.6 11 3.1 11 2.5 11 2.2 14.7 2.5M520 879.6l-14.7 1.4-11 1.4-14.6 2.4-11 2.3-11 3-7.4 2.6-3.6 1.5-4.3 2.1-5.7 3.7M520 772l-29.3-.2-29.4 .2-22 .5-22 .8-18.3 1.1-14.7 1.4-11 1.5-11 2.2-7.3 2-3.7 1.3-5.2 2.3-2.3 1.2-3.8 2.5-4.2 3.6-2.2 2.5-1.7 2.4-1.4 2.5-1.6 3.6-1.2 3.7-.8 3.7-.4 3.6-.2 3.7 .2 3.7 .5 3.6 .9 3.7 1.2 3.7 1.8 3.6 1.5 2.5 1.9 2.4 2.4 2.5 3 2.4 1.8 1.2 2.5 1.5 4.7 2.2 7.2 2.5 5 1.2 5.1 1 11 1.4 11 .9 11 .4 14.7 0 25.6-.8 80.7-4.3M436.7 680l-4 3.7-1.9 2.4-1.4 2.5-1.2 3.6-.2 2.5 .1 2.4 .6 2.5 1 2.4 2.3 3.7 2 2.4 2.5 2.5 4.6 3.6 5.8 3.7 7.1 3.7 8.8 3.6 9.5 3.3 11 3.2 11 2.6 11 2.2 14.7 2.5M520 881.1l-14.7 1.5-11 1.5-11 1.8-11 2.3-11 3-7.3 2.6-5.6 2.5-6.3 3.7M520 773.2l-25.7-.2-25.6 .2-22 .4-22 .8-18.4 1.2-14.6 1.4-11 1.5-11 2.1-7.4 2-3.6 1.2-6.2 2.5-2.4 1.3-4.1 2.4-4.5 3.7-2.3 2.4-1.8 2.5-1.6 2.4-1.2 2.4-.9 2.5-1.1 3.7-.6 3.6-.2 3.7 .1 3.7 .5 3.6 1 3.7 .9 2.4 1.1 2.5 1.5 2.4 1.8 2.5 2.2 2.4 4.4 3.7 2.4 1.5 4.2 2.1 6.8 2.7 3.6 1 7.4 1.7 11 1.7 11 1 11 .5 14.6 .1 14.7-.2 14.7-.5 73.3-3.4M442.1 680l-4.5 3.7-3 3.6-1.8 3.7-.6 2.4-.2 2.5 .3 2.4 .7 2.5 1.9 3.6 2.9 3.7 2.5 2.5 3 2.4 5.4 3.7 6.9 3.6 8.4 3.7 10.4 3.7 8.9 2.6 11 2.7 11 2.3 14.7 2.6M520 882.4l-11 1.2-14.7 2-11 2-7.3 1.6-8.5 2.2-7.4 2.5-6.1 2.5-3.7 1.8-3.1 1.8M520 774.3l-25.7-.1-22 .1-22 .5-18.3 .7-17.3 1.1-13.4 1.2-13.3 1.7-11 2-9.1 2.4-5.6 1.9-3.6 1.5-3.7 1.8-3.5 2.1-4.7 3.7-2.4 2.4-2 2.5-1.5 2.4-1.3 2.5-.9 2.4-1 3.7-.4 2.4-.2 3.7 .2 3.7 .4 2.4 1 3.7 1 2.4 1.2 2.5 1.7 2.4 2 2.4 2.5 2.5 3.2 2.4 1.9 1.3 2.8 1.5 4.7 2.1 7.4 2.5 9.9 2.2 11 1.5 11 1 11 .5 14.7 .1 29.3-.6 66-2.7M447.2 680l-4.9 3.7-1.3 1.2-2.1 2.4-.8 1.3-1.2 2.4-.9 3.7-.1 2.4 .5 2.5 1.5 3.6 1.5 2.5 2.1 2.4 3.9 3.7 5.2 3.6 6.5 3.7 8.1 3.7 10 3.6 8.1 2.5 11 2.9 11 2.3 14.7 2.6M520 883.7l-11 1.2-11 1.6-11 1.9-8.1 1.8-9 2.5-7.3 2.4-5.8 2.5-4.7 2.4M520 775.3l-25.7-.1-22 .2-22 .6-18.3 .8-14.7 1.1-14.6 1.5-11 1.5-11 2.2-7.4 1.9-3.6 1.2-6.5 2.6-2.5 1.2-4.2 2.4-4.8 3.7-2.5 2.5-1.9 2.4-1.6 2.4-1.2 2.5-1 2.4-.6 2.5-.5 2.4-.2 3.7 .4 3.7 .5 2.4 .7 2.4 1.1 2.5 1.3 2.4 1.8 2.5 2.2 2.4 2.7 2.5 2.1 1.5 3.6 2.1 5.1 2.5 7.1 2.4 4.6 1.2 5.8 1.3 10.5 1.5 11 1.1 11 .6 14.6 .2 29.4-.4 62.3-2.2M452.1 680l-5.3 3.7-1.4 1.2-2.3 2.4-.9 1.3-1.4 2.4-.5 1.2-.6 2.5-.1 2.4 .4 2.5 1.4 3.6 1.6 2.5 2 2.4 4 3.7 5.2 3.6 6.7 3.7 7.8 3.5 7.3 2.7 7.6 2.4 10.7 2.8 11 2.5 14.7 2.6M520 884.9l-18.3 2.4-10 1.7-8.4 1.8-7.3 1.9-7.8 2.4-6.3 2.5-5.1 2.4M520 776.4l-22-.1-22 .2-18.3 .5-18.4 .7-14.6 1-14.7 1.5-11 1.4-12 2.3-9.3 2.4-8 2.9-6.6 3.2-5.4 3.7-3.9 3.7-1.9 2.4-1.6 2.5-1.1 2.4-.9 2.5-.6 2.4-.4 3.7 .3 3.6 .4 2.5 .8 2.4 1.1 2.5 1.4 2.4 1.9 2.5 3.7 3.6 1.8 1.4 3.6 2.3 4.9 2.4 6.5 2.5 4.3 1.2 6.3 1.5 7.4 1.2 11 1.4 11 .7 14.6 .5 14.7 .1 18.3-.3 58.7-1.8M456.8 680l-2.8 1.7-2.9 2-2.8 2.4-1.2 1.2-1.8 2.5-.7 1.2-.5 1.2-.7 2.5-.2 1.2 .1 2.4 .6 2.5 1 2.4 2.5 3.7 3.6 3.7 4.9 3.6 6.3 3.7 6.5 3 7.8 3.1 10.5 3.3 10.6 2.8 11.4 2.5 11 2M520 886l-18.3 2.6-14.7 2.8-7.3 1.9-7.4 2.2-5.5 2.1-5.3 2.4M520 777.4l-22-.1-18.3 .2-18.4 .5-18.3 .8-14.7 1-14.6 1.5-11 1.6-11.7 2.2-9.2 2.5-6.8 2.4-2.9 1.2-4.7 2.5-5.3 3.6-3.9 3.7-1.9 2.4-1.4 2.5-1.1 2.4-.8 2.5-.5 2.4-.2 2.5 .2 2.4 .4 2.5 .8 2.4 1 2.4 1.5 2.5 1.9 2.4 2.5 2.5 1.7 1.4 3.3 2.2 2.1 1.3 5.6 2.6 7.4 2.4 3.9 1.1 7.1 1.5 7.3 1.1 11 1.2 11 .7 14.7 .5 14.6 0 18.4-.2 51.3-1.5M461.5 680l-4.4 2.4-1.8 1.3-3 2.4-1.3 1.2-1.9 2.5-.8 1.2-1 2.4-.4 1.3-.2 2.4 .2 2.5 .8 2.4 2.1 3.7 3.2 3.6 4.6 3.7 5.9 3.7 7.5 3.6 6.2 2.5 9.8 3.3 10.4 2.8 11.6 2.6 11 2M520 887.2l-11 1.5-7.3 1.1-13.8 2.9-4.8 1.2-7.1 2.1-4.3 1.6-5.7 2.4M520 778.4l-22 0-18.3 .2-18.4 .5-18.3 .9-14.7 1.2-11 1.2-11 1.6-11 2.1-9.7 2.7-6.7 2.4-5.6 2.6-5.5 3.5-4.2 3.7-2.1 2.4-1.6 2.5-1.2 2.4-.8 2.5-.5 2.4-.1 2.5 .2 2.4 .5 2.5 .9 2.4 1.3 2.4 2.7 3.7 4.1 3.7 2.7 1.8 3.2 1.8 5.5 2.5 7.4 2.4 9.5 2.2 7.4 1.2 11 1.3 11 .7 14.6 .5 14.7 .2 18.3-.2 47.7-1.2M466 680l-4.7 2.5-1.9 1.2-3.2 2.4-1.3 1.2-2.2 2.5-.8 1.2-1.1 2.4-.6 2.5-.1 1.2 .2 2.5 .7 2.4 2.1 3.7 3.3 3.6 4.6 3.7 6 3.7 7.8 3.6 6.3 2.5 7.4 2.4 9.5 2.7 11 2.5 11 2.1M520 888.3l-14.7 2.1-7.3 1.4-7.3 1.6-11 3.1-3.7 1.2-5.6 2.3M520 779.4l-22 0-18.3 .2-18.4 .6-14.6 .8-14.7 1.2-11 1.2-11.4 1.7-10.6 2.2-9.9 2.7-6.5 2.4-5.6 2.8-5.2 3.4-4.1 3.6-1.9 2.5-1.5 2.4-1.5 3.7-.5 2.4-.1 2.5 .3 2.4 .6 2.5 1.7 3.6 2.7 3.7 2.2 2 2 1.7 5.3 3.2 6.4 2.9 7.7 2.4 7.9 1.8 7.3 1.2 11 1.3 11 .9 14.7 .5 14.7 .2 18.3-.1 44-1M470.4 680l-5.4 2.7-5 3.4-1.4 1.2-2.3 2.5-.8 1.2-1.3 2.4-.4 1.3-.4 2.4 0 1.2 .4 2.5 1 2.4 .7 1.2 2.9 3.7 4.2 3.7 5.6 3.6 7.4 3.7 6 2.5 7 2.4 9.4 2.7 11 2.6 11 2.2M520 889.4l-13.6 2-12.1 2.5-11 3-8.5 3.1M520 780.4l-18.3-.1-18.4 .3-14.6 .4-14.7 .8-14.7 1-11 1.2-11 1.5-11.3 2.1-9.7 2.4-7.2 2.4-5.6 2.5-2.8 1.5-3.4 2.2-4.4 3.6-3 3.7-1.9 3.7-.6 2.4-.3 2.4 .1 2.5 .5 2.4 1.6 3.7 2.7 3.7 2.6 2.4 1.6 1.2 3.8 2.5 2.3 1.2 5.7 2.4 7.3 2.3 7.4 1.7 7.3 1.3 11 1.3 11 .9 14.7 .6 14.6 .2 18.4 0 40.3-.8M474.8 680l-6.1 3-4.9 3.1-2.8 2.5-1.1 1.2-1.7 2.4-1.1 2.5-.3 1.2-.2 1.2 .1 2.5 .3 1.2 1 2.4 1.5 2.5 .9 1.2 3.8 3.7 5.3 3.6 6.5 3.5 6.1 2.6 6.7 2.5 9.2 2.7 11 2.8 11 2.2M520 890.4l-11 1.7-11 2.2-11 3-7.9 2.7M520 781.3l-18.3 0-18.4 .3-14.6 .5-14.7 .8-14.7 1.2-11 1.3-11 1.6-8.7 1.8-9.3 2.4-6.9 2.5-5.4 2.4-2.7 1.5-3.3 2.2-4.2 3.6-2.7 3.7-1.6 3.7-.6 3.6 .4 3.7 1.4 3.7 2.7 3.6 2.5 2.5 1.6 1.2 3.8 2.4 2.4 1.3 5 2.1 7.3 2.3 7.3 1.8 7.4 1.3 11 1.3 11 .9 11 .6 14.6 .3 18.4 .1 40.3-.7M479.1 680l-6.8 3.1-4.8 3-3 2.5-1.2 1.2-1.8 2.4-.6 1.2-.9 2.5-.2 1.2 .1 2.5 .6 2.4 .6 1.2 1.5 2.5 .9 1.2 3.9 3.7 3.4 2.4 6.5 3.7 6 2.7 9.4 3.4 8.3 2.4 8 2 11 2.3M520 891.5l-11 1.8-8.8 1.8-9.4 2.5-7.3 2.4M520 782.3l-18.3 0-14.7 .3-14.7 .4-14.6 .8-14.7 1.2-11 1.3-8.6 1.3-9.7 1.8-7.4 1.8-7.6 2.5-7 3-5.4 3.1-2 1.4-2.5 2.2-2.9 3.7-1.7 3.7-.5 3.6 .2 2.5 .3 1.2 1 2.5 .6 1.2 1.9 2.4 1.1 1.2 2.5 2.2 2.2 1.5 5.2 2.8 7.3 2.9 7.3 2 7.4 1.5 7.3 1.2 11 1.2 11 .8 11 .5 14.7 .3 14.6 0 36.7-.5M483.5 680l-5.9 2.4-2.4 1.3-4.1 2.4-3.1 2.5-1.2 1.2-2 2.4-1.2 2.5-.4 1.2-.3 2.4 .1 1.3 .6 2.4 .5 1.2 1.6 2.5 3.4 3.6 4.9 3.7 5.7 3.2 6.5 2.9 6.6 2.5 8.9 2.7 8.6 2.1 9.7 2.1M520 892.5l-11 1.9-7.3 1.6-7.4 1.9-6.5 2.1M520 783.2l-18.3 .1-14.7 .3-14.7 .5-11 .6-14.6 1.2-11 1.3-10.5 1.6-7.9 1.5-8.3 2.1-6.3 2.1-6.7 2.8-4.4 2.5-1.8 1.2-2.9 2.4-1.2 1.3-1.9 2.4-.8 1.2-1 2.5-.3 1.2-.2 2.4 .2 2.5 .4 1.2 1.1 2.5 .8 1.2 2 2.4 1.3 1.2 3.3 2.5 4.7 2.6 3.7 1.6 3.7 1.3 7.3 2.1 7.3 1.6 7.4 1.1 11 1.3 11 .8 11 .5 14.6 .3 14.7 .1 33-.4M487.8 680l-6.2 2.4-4.8 2.5-4.5 3-3.3 3.1-1.7 2.4-.5 1.3-.7 2.4-.1 1.2 .3 2.5 .9 2.4 .7 1.2 1.8 2.5 1.1 1.2 4.6 3.7 6.1 3.6 5.3 2.5 6.2 2.4 8.7 2.8 7.9 2.1 10.4 2.3M520 893.6l-7.3 1.2-7.4 1.6-7.3 1.8-5.9 1.8M520 784.2l-18.3 .1-14.7 .3-14.7 .6-11 .7-11 .9-11 1.3-11 1.7-7.3 1.4-7.3 1.9-7.4 2.3-7.1 3.2-4.1 2.4-3.4 2.7-2.2 2.2-.9 1.2-.8 1.2-1 2.5-.3 1.2-.3 2.4 .4 2.5 .4 1.2 1.2 2.5 2 2.4 1.2 1.2 3.9 2.9 3.6 2 2.6 1.2 4.8 1.9 7.4 2.1 7.3 1.5 7.3 1.2 7.4 .9 11 1 11 .6 14.6 .4 14.7 .2 33-.3M492.1 680l-6.5 2.4-5.1 2.5-4.5 2.8-2.5 2.1-1.2 1.2-1.8 2.4-.6 1.3-.7 2.4-.1 1.2 .2 2.5 .9 2.4 .7 1.2 1.8 2.5 1.2 1.2 2.9 2.5 5.7 3.6 4.9 2.5 5.9 2.4 8.4 2.8 7.3 2.1 11 2.5M520 894.6l-11 2.1-7.3 1.8-5.2 1.5M520 785.1l-29.3 .4-14.7 .6-11 .6-11 1-11 1.2-11 1.7-7.3 1.5-7.4 1.9-6.7 2.1-5.8 2.5-4.4 2.4-3.4 2.4-1.7 1.5-1.8 2.2-.8 1.2-1.2 2.5-.3 1.2-.2 2.4 .5 2.5 .4 1.2 1.4 2.5 2 2.2 1.6 1.4 3.6 2.5 4.8 2.4 4.7 1.8 7.3 2.2 7.4 1.6 7.3 1.2 7.3 .9 11 .9 11 .7 25.7 .6 33-.2M496.5 680l-6.9 2.4-5.4 2.5-4.5 2.7-2.8 2.2-1.3 1.2-1.9 2.4-.7 1.3-.8 2.4-.1 2.5 .6 2.4 .5 1.2 1.5 2.5 1 1.2 2.6 2.4 5 3.5 4.8 2.6 6.2 2.7 7.4 2.6 7.3 2.2 11 2.7M520 895.7l-9.5 1.9-9.5 2.4M520 786.1l-25.7 .3-14.6 .6-11 .6-11 .9-11 1.3-9.6 1.4-6.4 1.2-6 1.4-7.9 2.3-6.3 2.5-4.8 2.4-3.6 2.4-1.5 1.3-2.2 2.4-1.6 2.5-.4 1.2-.5 2.4 .2 2.5 .3 1.2 1.2 2.4 1.4 1.8 1.9 1.9 3.4 2.4 4.7 2.5 6.5 2.4 5.5 1.6 7.3 1.6 7.4 1.2 7.3 .9 11 1 11 .7 25.7 .6 29.3-.1M501 680l-7.3 2.4-5.7 2.5-4.7 2.6-3.1 2.3-1.3 1.2-2 2.4-.9 1.6-.7 2.1-.2 2.5 .2 1.2 .9 2.4 1.5 2.5 1 1.2 2.7 2.4 5.4 3.7 4.7 2.4 5.7 2.5 7 2.4 8.4 2.5 7.4 1.8M520 896.7l-7.3 1.5-7.2 1.8M520 787l-25.7 .4-14.6 .6-11 .7-18.4 1.9-11 1.7-6.7 1.4-7.9 2-5.2 1.6-6 2.5-4.5 2.4-3.3 2.5-2.4 2.4-1.6 2.5-.5 1.2-.5 2.4 .3 2.5 .4 1.2 1.3 2.4 2.3 2.5 3.2 2.4 4.5 2.5 6.3 2.4 5.7 1.7 7.3 1.6 7.3 1.2 7.4 .9 11 1 11 .7 25.6 .7 25.7-.1M505.5 680l-7.8 2.4-6 2.5-4.6 2.4-3.6 2.5-2.5 2.4-1.3 1.8-1 1.9-.6 2.4 0 1.3 .5 2.4 1.2 2.4 .9 1.3 2.3 2.4 4 3.1 5.2 3 5.4 2.5 6.5 2.4 8 2.5 7.9 1.9M520 897.8l-9.8 2.2M520 788l-25.7 .4-22 1.2-18.3 1.9-11 1.7-7.3 1.5-7.4 1.9-6 2-5 2.1-2.9 1.5-3.6 2.5-2.5 2.4-1.7 2.5-.5 1.2-.5 2.4 .3 2.5 .5 1.2 1.5 2.4 2.5 2.5 3.3 2.2 3.6 1.9 5.1 2 5.9 1.7 7.4 1.7 7.3 1.2 7.3 1 7.4 .7 11 .7 11 .5 14.6 .4 25.7 0M510.2 680l-8.3 2.4-6.4 2.5-4.9 2.4-3.6 2.4-2.8 2.5-1.8 2.5-1 2.4-.3 1.2 .2 2.5 .8 2.4 .7 1.2 1.9 2.5 2.3 2 2.1 1.7 4 2.4 5 2.4 6.2 2.5 7.5 2.4 8.2 2.2M520 898.9l-5.1 1.1M520 789l-25.7 .5-11 .5-11 .8-11 1.1-7.3 .9-7.3 1.2-7.4 1.5-7 1.8-4 1.3-5.9 2.4-4.6 2.4-3.2 2.5-2.2 2.4-1.3 2.5-.5 2.4 .4 2.5 1.3 2.4 2.2 2.5 3.4 2.4 3.1 1.6 4.9 2.1 6.1 1.8 7.3 1.7 7.4 1.2 7.3 1 7.3 .7 11 .8 22 .8 25.7 .1M514.9 680l-5.9 1.6-7.3 2.4-5.1 2.1-2.4 1.2-3.5 2.2-3.3 2.7-1.9 2.5-1.1 2.4-.2 1.2 0 2.5 .9 2.4 .7 1.2 2 2.5 2.7 2.4 3.7 2.5 4.6 2.4 5.7 2.5 7.1 2.4 8.4 2.4M520 900l-.1 0M520 790l-22 .4-11 .5-11 .8-8.2 .7-9.9 1.3-7.6 1.2-6.1 1.2-5.1 1.2-7.1 2.2-3.8 1.5-4.9 2.4-3.5 2.5-2.3 2.4-1.4 2.5-.4 2.4 .5 2.5 1.4 2.4 2.5 2.5 3.8 2.4 4.4 2 3.7 1.3 5.5 1.6 5.5 1.2 7.1 1.2 7.6 1 17.1 1.5 23.2 .8 22 .1M519.9 680l-7.2 1.8-6.1 1.9-6.3 2.4-4.8 2.5-3.5 2.4-2.5 2.4-1.6 2.5-.5 1.2-.3 2.5 .1 1.2 .9 2.4 1.6 2.5 2.4 2.4 3.3 2.5 4.2 2.4 5.7 2.6 6.2 2.3 8.5 2.5M520 791l-22 .5-18.3 1.1-11 1-7.4 1-7.3 1.2-7.3 1.5-7.4 1.9-5 1.8-2.9 1.2-4.5 2.5-2.2 1.7-2 1.9-1.4 2.5-.3 1.2-.1 1.2 .1 1.2 .5 1.3 1.6 2.4 1.6 1.5 3.2 2.2 4.1 2 4.6 1.6 4.2 1.3 5.9 1.3 7.3 1.3 7.3 1 14.7 1.3 22 .9 22 .2M520 681.1l-7.3 2-5.5 1.8-5.5 2.3-3.7 2-2.7 1.8-1.4 1.2-2.2 2.5-1.2 2.4-.4 2.5 .1 1.2 .5 1.5 1.1 2.1 .9 1.3 2.5 2.4 3.3 2.5 4.4 2.4 5.5 2.4 6.9 2.5 4.7 1.4M520 792.1l-22 .5-18.3 1.2-14.7 1.7-7.3 1.2-7.4 1.5-5.9 1.6-3.7 1.2-5 2.1-3.1 1.6-1.8 1.2-2.7 2.4-1.5 2.5-.3 1.2-.1 1.2 .2 1.2 .5 1.3 .8 1.2 1.1 1.2 1.4 1.2 1.8 1.3 3.7 1.9 4.5 1.7 4 1.2 6.1 1.5 7.4 1.3 6.7 .9 15.3 1.4 18.3 .8 22 .3M520 682.3l-5 1.4-6 2-3.9 1.6-4.6 2.5-3.3 2.4-2.3 2.5-1.3 2.4-.5 2.5 .4 2.4 1.3 2.4 2.1 2.5 3 2.4 3.9 2.5 5.1 2.4 6.4 2.5 4.7 1.5M520 793.2l-18.3 .4-18.4 1.2-14.6 1.6-12 2.2-5.1 1.2-4.9 1.4-3.7 1.4-4.4 2.1-2.9 1.9-2 1.7-.9 1.3-.7 1.2-.3 1.2-.1 1.2 .3 1.2 .6 1.3 .9 1.2 2.2 2 2.6 1.7 4.7 2 3.7 1.3 6 1.5 5 1.1 11 1.6 14.6 1.3 18.4 .9 18.3 .2M520 683.5l-4.6 1.4-6.4 2.4-3.7 1.7-3.2 2-1.6 1.2-2.4 2.5-1.4 2.4-.5 2.5 .4 2.4 1.2 2.4 2.2 2.5 3 2.4 2.3 1.5 4.3 2.2 5.9 2.4 4.5 1.6M520 794.3l-18.3 .5-18.4 1.3-11 1.3-7 1.2-5.9 1.2-4.8 1.2-4.3 1.4-3.6 1.4-4.1 2.1-3.1 2.4-1 1.3-.7 1.2-.3 1.2 0 1.2 .3 1.2 .7 1.3 1 1.2 1.4 1.2 1.8 1.2 2.4 1.3 2.9 1.2 3.7 1.2 4.6 1.2 5 1.1 11 1.7 14.7 1.3 14.7 .7 18.3 .3M520 684.8l-7.3 2.6-3.7 1.6-3.7 2.2-2.9 2.2-1.1 1.3-1.5 2.4-.5 2.5 .3 2.4 1.3 2.4 1 1.3 2.6 2.4 3.7 2.5 2.3 1.2 5.4 2.4 4.1 1.5M520 795.5l-18.3 .6-14.7 1-11.7 1.5-10.3 1.8-6.9 1.8-3.7 1.2-5.4 2.5-1.9 1.2-1.5 1.2-1.1 1.3-.7 1.2-.3 1.2 0 1.2 .4 1.2 .8 1.3 2 1.8 2.9 1.8 2.8 1.3 3.4 1.2 4.4 1.2 4.8 1.1 11 1.7 11 1.1 14.7 .8 18.3 .4M520 686.1l-3.7 1.4-3.6 1.6-3.6 1.9-1.8 1.2-2 1.7-1.6 2-.7 1.2-.6 2.5 0 1.2 .9 2.4 1.7 2.5 1.2 1.2 2.8 2.1 2.5 1.6 4.8 2.3 3.7 1.5M520 796.7l-14.7 .5-11 .7-11 1.2-11.8 1.9-5.3 1.2-4.2 1.2-3.4 1.3-2.7 1.2-2.2 1.2-1.6 1.2-1.2 1.3-.6 .9-.5 1.5 .1 1.2 .4 1.1 1 1.4 1.4 1.2 1.9 1.2 2.5 1.2 3.3 1.3 4.1 1.2 4.2 .9 8.6 1.5 13.4 1.5 14.6 .8 14.7 .3M520 687.6l-3.7 1.5-3.6 1.9-3.5 2.4-2.3 2.5-.7 1.2-.4 1.2-.2 1.3 0 1.2 .8 2.4 1.8 2.5 1.3 1.2 3.2 2.3 2.2 1.4 5.1 2.3M520 798l-14.1 .6-11.6 .8-11 1.4-7.9 1.4-5 1.2-4 1.3-5.1 2.2-2.2 1.4-1.3 1.3-.8 1.2-.3 1.2 .1 1.2 .6 1.2 1.1 1.3 2.8 1.9 4.1 1.7 4 1.3 5.2 1.2 8.7 1.4 11 1.2 11 .7 14.7 .4M520 689.2l-3.6 1.8-2 1.2-3.1 2.5-1.8 2.4-.5 1.2-.2 1.3 0 1.2 .3 1.2 1.3 2.4 1 1.3 2.9 2.4 2 1.3 3.7 1.9M520 799.5l-11 .4-11 .8-11 1.4-6.9 1.3-4.8 1.3-3.6 1.2-2.9 1.2-2 1.2-1.5 1.3-.9 1.2-.3 1.2 .2 1.2 .7 1.2 1.4 1.3 1.9 1.2 4 1.6 7.4 2 7.3 1.3 10.9 1.2 11.1 .7 11 .3M520 691.1l-3.7 2.3-1.5 1.3-2 2.4-.5 1.2-.2 1.3 0 1.2 .2 1.2 .6 1.2 .8 1.2 2.4 2.5 3.9 2.6M520 801.1l-11 .5-7.5 .6-9.3 1.2-6.3 1.3-6.2 1.8-4.3 1.8-1.7 1.3-1 1.2-.3 1.2 .2 1.2 1 1.2 1.7 1.3 2.5 1.2 1.9 .6 6.7 1.8 7.2 1.3 8.1 .9 7.3 .5 11 .4M520 693.4l-1.6 1.3-2.1 2.4-.6 1.2-.3 1.3 0 1.2 .3 1.2 .5 1.2 .8 1.2 1.1 1.3 1.9 1.5M520 802.9l-7.3 .4-7.4 .7-5.5 .7-6.5 1.2-4.5 1.2-3.2 1.2-2.3 1.4-.9 1.1-.4 1.2 .4 1.2 .9 .9 2.6 1.6 3.5 1.2 4.9 1.2 11 1.5 7.4 .6 7.3 .4M520 696.8l-.8 1.5-.4 1.3 0 1.2 .3 1.2 .9 1.8M520 805.2l-8.4 .7-6.3 .9-3.6 .8-2.8 .7-2.9 1.3-1.7 1.2-.4 1.2 .7 1.2 2 1.2 3.5 1.3 5.2 1.1 3.7 .5 11 .9M520 809l-3.5 .6-3.5 1.2-.7 1.2 1.9 1.2 5.8 1.3"/>
</g>
<g transform="translate(367.288 775.756) rotate(-5)"><rect x="-11" y="-6" width="22" height="12" fill="#fff"/><text x="0" y="4.5" font-family='"Liberation Sans",sans-serif' font-size="12.2" text-anchor="middle" stroke="#000" stroke-width=".3" transform="scale(1.09 1)">0.2</text></g>
<g transform="translate(395.756 792.578) rotate(-22)"><rect x="-11" y="-6" width="22" height="12" fill="#fff"/><text x="0" y="4.5" font-family='"Liberation Sans",sans-serif' font-size="12.2" text-anchor="middle" stroke="#000" stroke-width=".3" transform="scale(1.09 1)">0.4</text></g>
<g transform="translate(421.636 818.458) rotate(35)"><rect x="-11" y="-6" width="22" height="12" fill="#fff"/><text x="0" y="4.5" font-family='"Liberation Sans",sans-serif' font-size="12.2" text-anchor="middle" stroke="#000" stroke-width=".3" transform="scale(1.09 1)">0.6</text></g>
<g transform="translate(419.565 842.526) rotate(0)"><rect x="-11" y="-6" width="22" height="12" fill="#fff"/><text x="0" y="4.5" font-family='"Liberation Sans",sans-serif' font-size="12.2" text-anchor="middle" stroke="#000" stroke-width=".3" transform="scale(1.09 1)">0.4</text></g>
<g transform="translate(419.565 861.936) rotate(0)"><rect x="-11" y="-6" width="22" height="12" fill="#fff"/><text x="0" y="4.5" font-family='"Liberation Sans",sans-serif' font-size="12.2" text-anchor="middle" stroke="#000" stroke-width=".3" transform="scale(1.09 1)">0.2</text></g>
<g transform="translate(324.586 845.631) rotate(54)"><rect x="-11" y="-6" width="22" height="12" fill="#fff"/><text x="0" y="4.5" font-family='"Liberation Sans",sans-serif' font-size="12.2" text-anchor="middle" stroke="#000" stroke-width=".3" transform="scale(1.09 1)">0.2</text></g>
<g transform="translate(427.329 707.174) rotate(52)"><rect x="-11" y="-6" width="22" height="12" fill="#fff"/><text x="0" y="4.5" font-family='"Liberation Sans",sans-serif' font-size="12.2" text-anchor="middle" stroke="#000" stroke-width=".3" transform="scale(1.09 1)">0.2</text></g>
<g transform="translate(465.8 769.3) rotate(0)"><rect x="-11" y="-6" width="22" height="12" fill="#fff"/><text x="0" y="4.5" font-family='"Liberation Sans",sans-serif' font-size="12.2" text-anchor="middle" stroke="#000" stroke-width=".3" transform="scale(1.09 1)">0.2</text></g>
<g transform="translate(493.8 780.8) rotate(0)"><rect x="-11" y="-6" width="22" height="12" fill="#fff"/><text x="0" y="4.5" font-family='"Liberation Sans",sans-serif' font-size="12.2" text-anchor="middle" stroke="#000" stroke-width=".3" transform="scale(1.09 1)">0.4</text></g>
<g transform="translate(509.3 792.5) rotate(0)"><rect x="-11" y="-6" width="22" height="12" fill="#fff"/><text x="0" y="4.5" font-family='"Liberation Sans",sans-serif' font-size="12.2" text-anchor="middle" stroke="#000" stroke-width=".3" transform="scale(1.09 1)">0.6</text></g>
<clipPath id="cp"><rect x="300" y="680" width="220" height="220"/></clipPath><g clip-path="url(#cp)">
<g transform="translate(482.5 682.5) rotate(-8)"><rect x="-11" y="-6" width="22" height="12" fill="#fff"/><text x="0" y="4.5" font-family='"Liberation Sans",sans-serif' font-size="12.2" text-anchor="middle" stroke="#000" stroke-width=".3" transform="scale(1.09 1)">0.4</text></g>
</g>
<circle cx="391.667" cy="736.222" r="2.5" fill="#e8001c"/>
<g shape-rendering="crispEdges" stroke="#000" fill="none">
<rect x="300" y="680" width="220" height="220" stroke-width="2"/>
<path d="M299.5 672V679M299.5 901V908M307.5 676V679M307.5 901V904M314.5 676V679M314.5 901V904M321.5 676V679M321.5 901V904M329.5 676V679M329.5 901V904M336.5 672V679M336.5 901V908M343.5 676V679M343.5 901V904M351.5 676V679M351.5 901V904M358.5 676V679M358.5 901V904M365.5 676V679M365.5 901V904M373.5 672V679M373.5 901V908M380.5 676V679M380.5 901V904M387.5 676V679M387.5 901V904M395.5 676V679M395.5 901V904M402.5 676V679M402.5 901V904M409.5 672V679M409.5 901V908M417.5 676V679M417.5 901V904M424.5 676V679M424.5 901V904M431.5 676V679M431.5 901V904M439.5 676V679M439.5 901V904M446.5 672V679M446.5 901V908M453.5 676V679M453.5 901V904M461.5 676V679M461.5 901V904M468.5 676V679M468.5 901V904M475.5 676V679M475.5 901V904M483.5 672V679M483.5 901V908M490.5 676V679M490.5 901V904M497.5 676V679M497.5 901V904M505.5 676V679M505.5 901V904M512.5 676V679M512.5 901V904M519.5 672V679M519.5 901V908M292 900.5H299M521 900.5H528M296 887.5H299M521 887.5H524M296 875.5H299M521 875.5H524M292 863.5H299M521 863.5H528M296 851.5H299M521 851.5H524M296 838.5H299M521 838.5H524M292 826.5H299M521 826.5H528M296 814.5H299M521 814.5H524M296 802.5H299M521 802.5H524M292 790.5H299M521 790.5H528M296 777.5H299M521 777.5H524M296 765.5H299M521 765.5H524M292 753.5H299M521 753.5H528M296 741.5H299M521 741.5H524M296 728.5H299M521 728.5H524M292 716.5H299M521 716.5H528M296 704.5H299M521 704.5H524M296 692.5H299M521 692.5H524M292 680.5H299M521 680.5H528" stroke-width="1"/>
</g>
<text transform="translate(286 906.9) scale(1.07 1)" font-family='"Liberation Sans",sans-serif' font-size="17.3" text-anchor="end" xml:space="preserve" stroke="#000" stroke-width=".35">-90</text>
<text transform="translate(286 870.233) scale(1.07 1)" font-family='"Liberation Sans",sans-serif' font-size="17.3" text-anchor="end" xml:space="preserve" stroke="#000" stroke-width=".35">-60</text>
<text transform="translate(286 833.567) scale(1.07 1)" font-family='"Liberation Sans",sans-serif' font-size="17.3" text-anchor="end" xml:space="preserve" stroke="#000" stroke-width=".35">-30</text>
<text transform="translate(286 796.9) scale(1.07 1)" font-family='"Liberation Sans",sans-serif' font-size="17.3" text-anchor="end" xml:space="preserve" stroke="#000" stroke-width=".35">0</text>
<text transform="translate(286 760.233) scale(1.07 1)" font-family='"Liberation Sans",sans-serif' font-size="17.3" text-anchor="end" xml:space="preserve" stroke="#000" stroke-width=".35">30</text>
<text transform="translate(286 723.567) scale(1.07 1)" font-family='"Liberation Sans",sans-serif' font-size="17.3" text-anchor="end" xml:space="preserve" stroke="#000" stroke-width=".35">60</text>
<text transform="translate(286 686.9) scale(1.07 1)" font-family='"Liberation Sans",sans-serif' font-size="17.3" text-anchor="end" xml:space="preserve" stroke="#000" stroke-width=".35">90</text>
<text transform="translate(301 928.8) scale(1.09 1)" font-family='"Liberation Sans",sans-serif' font-size="17.3" text-anchor="middle" xml:space="preserve" stroke="#000" stroke-width=".35">0.0</text>
<text transform="translate(337.667 928.8) scale(1.09 1)" font-family='"Liberation Sans",sans-serif' font-size="17.3" text-anchor="middle" xml:space="preserve" stroke="#000" stroke-width=".35">0.5</text>
<text transform="translate(374.333 928.8) scale(1.09 1)" font-family='"Liberation Sans",sans-serif' font-size="17.3" text-anchor="middle" xml:space="preserve" stroke="#000" stroke-width=".35">1.0</text>
<text transform="translate(411 928.8) scale(1.09 1)" font-family='"Liberation Sans",sans-serif' font-size="17.3" text-anchor="middle" xml:space="preserve" stroke="#000" stroke-width=".35">1.5</text>
<text transform="translate(447.667 928.8) scale(1.09 1)" font-family='"Liberation Sans",sans-serif' font-size="17.3" text-anchor="middle" xml:space="preserve" stroke="#000" stroke-width=".35">2.0</text>
<text transform="translate(484.333 928.8) scale(1.09 1)" font-family='"Liberation Sans",sans-serif' font-size="17.3" text-anchor="middle" xml:space="preserve" stroke="#000" stroke-width=".35">2.5</text>
<text transform="translate(521 928.8) scale(1.09 1)" font-family='"Liberation Sans",sans-serif' font-size="17.3" text-anchor="middle" xml:space="preserve" stroke="#000" stroke-width=".35">3.0</text>
<text transform="translate(289.3 669.3) scale(1.077 1)" font-family='"Liberation Serif",serif' font-size="15.4" font-weight="bold" xml:space="preserve">ϕ= 44. +/- 16.deg. δt= 1.25 +/-0.52s</text>
<text transform="translate(264 789.9) rotate(-90) scale(1 1.06)" font-family='"Liberation Serif",serif' font-size="16.5" font-weight="bold" text-anchor="middle">Azimuth (degrees)</text>
<text transform="translate(386.9 957) scale(1.06 1)" font-family='"Liberation Serif",serif' font-size="15.6" font-weight="bold" xml:space="preserve">Lag (s)</text>
<text transform="translate(210.6 981.4) scale(1.047 1)" font-family='"Liberation Sans",sans-serif' font-size="18.5" xml:space="preserve" stroke="#000" stroke-width=".35">Ror= 4.66; Rot= 6.71; Rct= 4.11; Rct/Rot= 0.61</text>
</svg>
</body></html>
